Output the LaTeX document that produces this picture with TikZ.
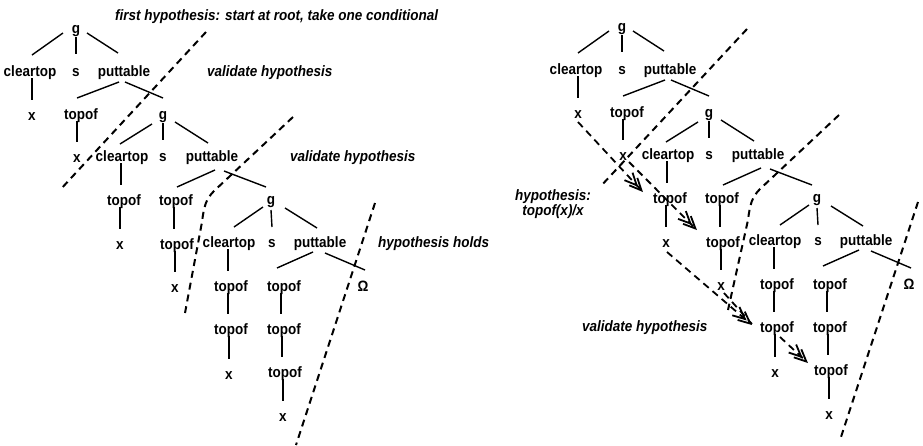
\documentclass[tikz,border=0pt]{standalone}
\usepackage{fontspec}
\setmainfont{Liberation Sans}[FakeStretch=0.9]
\usetikzlibrary{arrows.meta,calc}
\tikzset{
  lbl/.style={font=\fontsize{15}{16}\selectfont\bfseries, inner sep=0pt, text height=8pt, text depth=0pt},
  hyp/.style={font=\fontsize{15}{16}\selectfont\bfseries\itshape, inner sep=0pt, text height=8pt, text depth=0pt, anchor=west},
  tedge/.style={line width=1.4pt},
  cut/.style={line width=2pt, dash pattern=on 7pt off 5pt},
  harrow/.style={line width=1.8pt, dash pattern=on 7pt off 5pt,
    -{Straight Barb[length=12pt,width=11pt,sep=-8pt]Straight Barb[length=12pt,width=11pt]}},
}
\newcommand\vl[3]{\draw[tedge] ($(#2.center |- #1.center)+(#3,6)$) -- ($(#2.center)+(#3,-16)$);}
\newcommand\ed[4]{\draw[tedge] ($(#1.center)+#2$) -- ($(#3.center)+#4$);}
\newcommand\treenodes[1]{%
  \node[lbl] (#1g1)  at (76,29)  {g};
  \node[lbl] (#1ct1) at (30,72)  {cleartop};
  \node[lbl] (#1s1)  at (76,72)  {s};
  \node[lbl] (#1pt1) at (124,72) {puttable};
  \node[lbl] (#1x1)  at (32,116) {x};
  \node[lbl] (#1tp1) at (81,115) {topof};
  \node[lbl] (#1g2)  at (163,115) {g};
  \node[lbl] (#1x2)  at (77,158) {x};
  \node[lbl] (#1ct2) at (122,157) {cleartop};
  \node[lbl] (#1s2)  at (163,157) {s};
  \node[lbl] (#1pt2) at (212,157) {puttable};
  \node[lbl] (#1tpA) at (124,201) {topof};
  \node[lbl] (#1tpB) at (176,201) {topof};
  \node[lbl] (#1g3)  at (271,200) {g};
  \node[lbl] (#1xA)  at (120,245) {x};
  \node[lbl] (#1tpC) at (177,245) {topof};
  \node[lbl] (#1xB)  at (175,288) {x};
  \node[lbl] (#1ct3) at (229,243) {cleartop};
  \node[lbl] (#1s3)  at (272,243) {s};
  \node[lbl] (#1pt3) at (320,243) {puttable};
  \node[lbl] (#1tpD) at (231,287) {topof};
  \node[lbl] (#1tpE) at (284,287) {topof};
  \node[lbl] (#1Om)  at (363,287) {Ω};
  \node[lbl] (#1tpF) at (231,330) {topof};
  \node[lbl] (#1xC)  at (229,375) {x};
  \node[lbl] (#1tpG) at (284,330) {topof};
  \node[lbl] (#1tpH) at (285,373) {topof};
  \node[lbl] (#1xD)  at (283,417) {x};
}
\newcommand\treeedges[1]{%
  \ed{#1g1}{(-13,4)}{#1ct1}{(2,-17)}
  \ed{#1g1}{(0,8)}{#1s1}{(0,-18)}
  \ed{#1g1}{(11,4)}{#1pt1}{(-6,-19)}
  \ed{#1pt1}{(-5,10)}{#1tp1}{(-4,-17)}
  \ed{#1pt1}{(1,10)}{#1g2}{(0,-17)}
  \ed{#1g2}{(-11,9)}{#1ct2}{(-2,-13)}
  \ed{#1g2}{(0,8)}{#1s2}{(0,-17)}
  \ed{#1g2}{(12,7)}{#1pt2}{(-4,-14)}
  \ed{#1pt2}{(3,13)}{#1tpB}{(1,-14)}
  \ed{#1pt2}{(12,14)}{#1g3}{(-5,-13)}
  \ed{#1g3}{(-8,7)}{#1ct3}{(5,-16)}
  \ed{#1g3}{(0,10)}{#1s3}{(0,-16)}
  \ed{#1g3}{(14,8)}{#1pt3}{(-3,-15)}
  \ed{#1pt3}{(-7,9)}{#1tpE}{(-7,-19)}
  \ed{#1pt3}{(5,10)}{#1Om}{(2,-17)}
  \vl{#1ct1}{#1x1}{0}
  \vl{#1tp1}{#1x2}{0}
  \vl{#1ct2}{#1tpA}{-3}
  \vl{#1tpA}{#1xA}{0}
  \vl{#1tpB}{#1tpC}{-3}
  \vl{#1tpC}{#1xB}{0}
  \vl{#1ct3}{#1tpD}{-3}
  \vl{#1tpD}{#1tpF}{-3}
  \vl{#1tpF}{#1xC}{0}
  \vl{#1tpE}{#1tpG}{-3}
  \vl{#1tpG}{#1tpH}{-3}
  \vl{#1tpH}{#1xD}{0}
}
\begin{document}
\begin{tikzpicture}[x=1pt,y=-1pt]
  \path[use as bounding box] (0,0) rectangle (923,445);
  % left tree
  \treenodes{L}
  \treeedges{L}
  % right tree
  \begin{scope}[shift={(546,-2)}]
    \treenodes{R}
  \end{scope}
  \treeedges{R}
  % left cuts
  \draw[cut] (206,32) -- (60,190);
  \draw[cut] (293,117) -- (214,191) .. controls (206,199) and (204,206) .. (202,222) -- (185,313);
  \draw[cut] (375,203) -- (296,445);
  % right cuts
  \draw[cut] (747,29) -- (600,187);
  \draw[cut] (839,115) -- (760,189) .. controls (752,197) and (750,204) .. (748,220) -- (728,310);
  \draw[cut] (918,202) -- (840,440);
  % labels
  \node[hyp] (t1) at (115,16) {first hypothesis: start at root, take one conditional};
  \node[hyp] (t2) at (207,72) {validate hypothesis};
  \node[hyp] (t3) at (290,157) {validate hypothesis};
  \node[hyp] (t4) at (378,243) {hypothesis holds};
  \node[font=\fontsize{15}{15}\selectfont\bfseries\itshape, inner sep=0pt, align=center] (t5) at (553,204) {hypothesis:\\topof(x)/x};
  \node[hyp] (t6) at (582,327) {validate hypothesis};
  % hypothesis arrows
  \draw[harrow] ($(Rx1.center)+(0,8)$) -- ($(RtpA.west)+(-10,-7)$);
  \draw[harrow] ($(Rx2.center)+(6,6)$) -- ($(RtpC.west)+(-9,-13)$);
  \draw[harrow] ($(RxA.center)+(1,9)$) -- ($(RtpF.west)+(-8,-3)$);
  \draw[cut, line width=1.8pt] ($(RxB.center)+(3,7)$) -- ($(RtpF.west)+(-8,-4)$);
  \draw[harrow] ($(RtpF.center)+(3,9)$) -- ($(RtpH.west)+(-6,-8)$);
\end{tikzpicture}
\end{document}
